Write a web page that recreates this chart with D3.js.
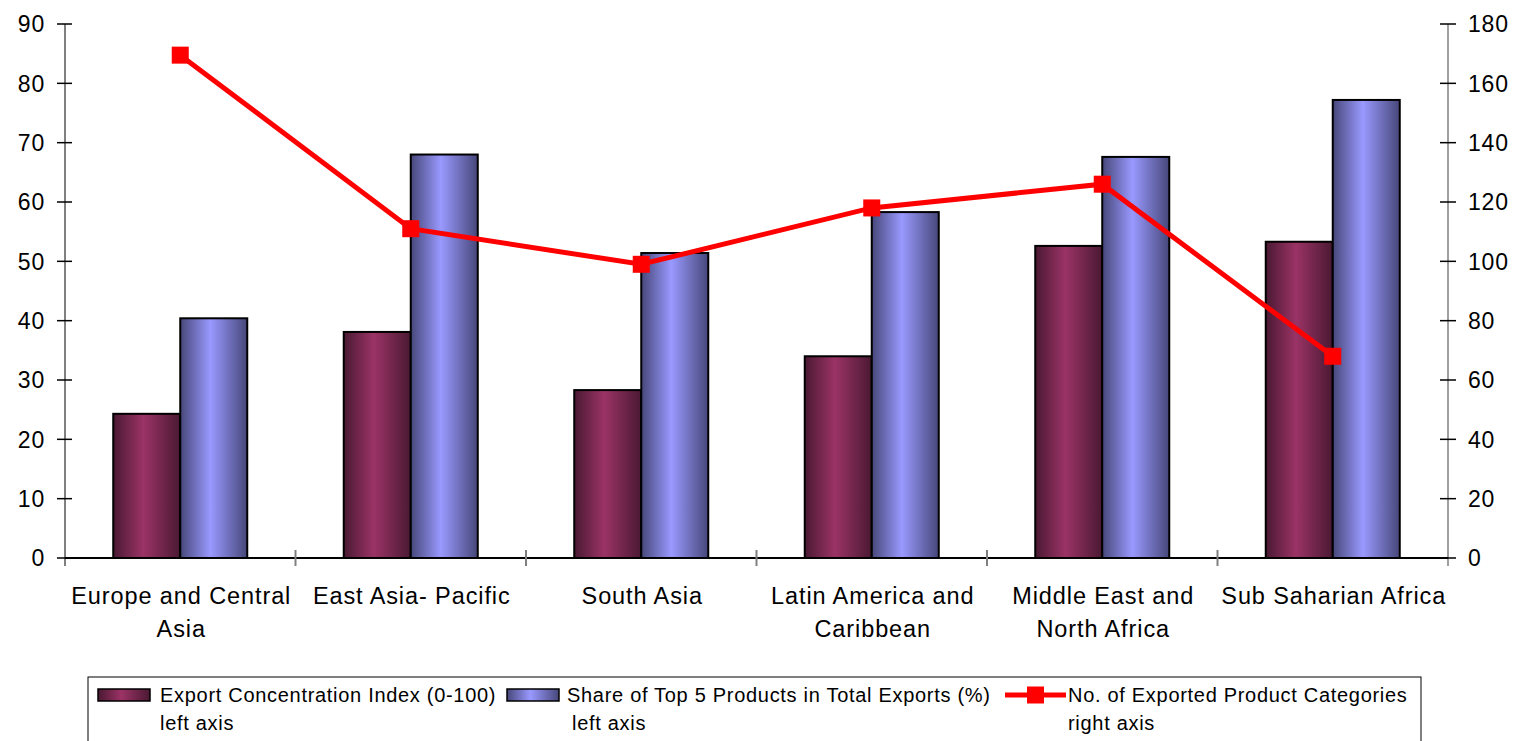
<!DOCTYPE html>
<html>
<head>
<meta charset="utf-8">
<script src="https://cdn.jsdelivr.net/npm/d3@7"></script>
<style>
  body { margin: 0; background: #fff; }
  text { font-family: "Liberation Sans", Arial, sans-serif; fill: #000; }
</style>
</head>
<body>
<div id="chart"></div>
<script>
var regions = [
    ["Europe and Central", "Asia"],
    ["East Asia- Pacific"],
    ["South Asia"],
    ["Latin America and", "Caribbean"],
    ["Middle East and", "North Africa"],
    ["Sub Saharian Africa"]
];
var concentrationIndex = [24.3, 38.1, 28.3, 34.0, 52.6, 53.3];
var topFiveShare = [40.4, 68.0, 51.4, 58.3, 67.6, 77.2];
var productCategories = [169.5, 111, 99, 118, 126, 68];
var leftTicks = [0, 10, 20, 30, 40, 50, 60, 70, 80, 90];
var rightTicks = [0, 20, 40, 60, 80, 100, 120, 140, 160, 180];

var width = 1515, height = 741;
var plot = { left: 65, right: 1448, top: 24, bottom: 558 };

var svg = d3.select("#chart").append("svg")
    .attr("width", width)
    .attr("height", height);

var defs = svg.append("defs");
function barGradient(id, edge, mid) {
    var g = defs.append("linearGradient").attr("id", id)
        .attr("x1", "0%").attr("x2", "100%").attr("y1", "0%").attr("y2", "0%");
    g.append("stop").attr("offset", "0%").attr("stop-color", edge);
    g.append("stop").attr("offset", "45%").attr("stop-color", mid);
    g.append("stop").attr("offset", "100%").attr("stop-color", edge);
}
barGradient("gradMagenta", "#4a1932", "#9b3366");
barGradient("gradBlue", "#47477a", "#9999ff");

var series = [
    { key: "ci", values: concentrationIndex, fill: "url(#gradMagenta)" },
    { key: "share", values: topFiveShare, fill: "url(#gradBlue)" }
];

var x = d3.scaleBand()
    .domain(d3.range(regions.length))
    .range([plot.left, plot.right]);

var x1 = d3.scaleBand()
    .domain(series.map(s => s.key))
    .range([0, x.bandwidth()])
    .paddingOuter(0.72);

var yLeft = d3.scaleLinear().domain([0, 90]).range([plot.bottom, plot.top]);
var yRight = d3.scaleLinear().domain([0, 180]).range([plot.bottom, plot.top]);

// bars
var groups = svg.selectAll("g.series")
    .data(series)
    .enter()
    .append("g")
    .attr("class", "series")
    .attr("fill", d => d.fill);

groups.selectAll("rect")
    .data(s => s.values.map((v, i) => ({ key: s.key, value: v, i: i })))
    .enter()
    .append("rect")
    .attr("x", d => x(d.i) + x1(d.key))
    .attr("y", d => yLeft(d.value))
    .attr("width", x1.bandwidth())
    .attr("height", d => yLeft(0) - yLeft(d.value))
    .attr("stroke", "#000")
    .attr("stroke-width", 2);

// left axis
var leftAxis = svg.append("g").attr("transform", "translate(" + plot.left + ",0)");
leftAxis.append("line")
    .attr("y1", plot.top).attr("y2", plot.bottom + 8)
    .attr("stroke", "#808080").attr("stroke-width", 2);
leftAxis.selectAll("line.tick")
    .data(leftTicks)
    .enter()
    .append("line")
    .attr("class", "tick")
    .attr("x1", -8).attr("x2", 7)
    .attr("y1", d => yLeft(d)).attr("y2", d => yLeft(d))
    .attr("stroke", "#000").attr("stroke-width", 1.5);
leftAxis.selectAll("text")
    .data(leftTicks)
    .enter()
    .append("text")
    .attr("x", -20)
    .attr("y", d => yLeft(d))
    .attr("dy", "0.36em")
    .attr("text-anchor", "end")
    .style("font-size", "23px")
    .style("letter-spacing", "0.8px")
    .text(d => d);

// right axis
var rightAxis = svg.append("g").attr("transform", "translate(" + plot.right + ",0)");
rightAxis.append("line")
    .attr("y1", plot.top).attr("y2", plot.bottom + 8)
    .attr("stroke", "#808080").attr("stroke-width", 1.5);
rightAxis.selectAll("line.tick")
    .data(rightTicks)
    .enter()
    .append("line")
    .attr("class", "tick")
    .attr("x1", -8).attr("x2", 8)
    .attr("y1", d => yRight(d)).attr("y2", d => yRight(d))
    .attr("stroke", "#000").attr("stroke-width", 1.5);
rightAxis.selectAll("text")
    .data(rightTicks)
    .enter()
    .append("text")
    .attr("x", 20)
    .attr("y", d => yRight(d))
    .attr("dy", "0.36em")
    .style("font-size", "23px")
    .style("letter-spacing", "0.8px")
    .text(d => d);

// x axis
svg.append("line")
    .attr("x1", plot.left).attr("x2", plot.right)
    .attr("y1", plot.bottom).attr("y2", plot.bottom)
    .attr("stroke", "#000").attr("stroke-width", 2);
svg.selectAll("line.xtick")
    .data(d3.range(1, regions.length))
    .enter()
    .append("line")
    .attr("class", "xtick")
    .attr("x1", d => x(d)).attr("x2", d => x(d))
    .attr("y1", plot.bottom - 8).attr("y2", plot.bottom + 8)
    .attr("stroke", "#808080").attr("stroke-width", 2);

var labels = svg.selectAll("text.cat")
    .data(regions)
    .enter()
    .append("text")
    .attr("class", "cat")
    .attr("text-anchor", "middle")
    .style("font-size", "23.5px")
    .style("letter-spacing", "0.9px");
labels.selectAll("tspan")
    .data((d, i) => d.map(line => ({ line: line, i: i })))
    .enter()
    .append("tspan")
    .attr("x", d => x(d.i) + x.bandwidth() / 2 + 1)
    .attr("y", (d, j) => 604 + j * 33)
    .text(d => d.line);

// line series
var line = d3.line()
    .x((d, i) => x(i) + x.bandwidth() / 2)
    .y(d => yRight(d));

svg.append("path")
    .datum(productCategories)
    .attr("d", line)
    .attr("fill", "none")
    .attr("stroke", "#ff0000")
    .attr("stroke-width", 5);

svg.selectAll("rect.marker")
    .data(productCategories)
    .enter()
    .append("rect")
    .attr("class", "marker")
    .attr("x", (d, i) => x(i) + x.bandwidth() / 2 - 8.5)
    .attr("y", d => yRight(d) - 8.5)
    .attr("width", 17)
    .attr("height", 17)
    .attr("fill", "#ff0000");

// legend
var legend = svg.append("g");
legend.append("rect")
    .attr("x", 88).attr("y", 677)
    .attr("width", 1333).attr("height", 100)
    .attr("fill", "none").attr("stroke", "#000").attr("stroke-width", 1);

var legendItems = [
    { x: 98, fill: "url(#gradMagenta)", lines: ["Export Concentration Index (0-100)", "left axis"], tx: 160, indent: 0 },
    { x: 507, fill: "url(#gradBlue)", lines: ["Share of Top 5 Products in Total Exports (%)", "left axis"], tx: 567, indent: 5 },
    { x: 1005, line: true, lines: ["No. of Exported Product Categories", "right axis"], tx: 1068, indent: 0 }
];

legendItems.forEach(item => {
    if (item.line) {
        legend.append("line")
            .attr("x1", item.x).attr("x2", item.x + 61)
            .attr("y1", 695).attr("y2", 695)
            .attr("stroke", "#ff0000").attr("stroke-width", 5);
        legend.append("rect")
            .attr("x", item.x + 22).attr("y", 686.5)
            .attr("width", 17).attr("height", 17)
            .attr("fill", "#ff0000");
    } else {
        legend.append("rect")
            .attr("x", item.x).attr("y", 689)
            .attr("width", 52).attr("height", 12)
            .attr("fill", item.fill)
            .attr("stroke", "#000").attr("stroke-width", 1.5);
    }
    item.lines.forEach((t, j) => {
        legend.append("text")
            .attr("x", item.tx + (j > 0 ? item.indent : 0))
            .attr("y", 702 + j * 28)
            .style("font-size", "20px")
            .style("letter-spacing", "0.7px")
            .text(t);
    });
});
</script>
</body>
</html>
